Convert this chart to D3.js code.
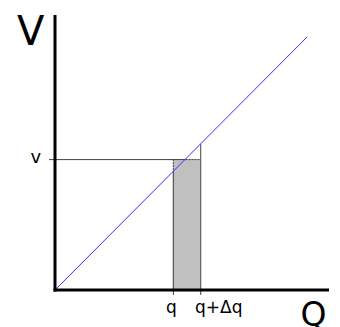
<!DOCTYPE html>
<html><head><meta charset="utf-8">
<script src="https://cdn.jsdelivr.net/npm/d3@7"></script>
<style>html,body{margin:0;padding:0;background:#fff;}svg{display:block;}</style>
</head><body>
<svg id="c" width="340" height="327"></svg>
<script>
// Data (abstract units)
const axisMax = [100, 100];          // x and y axis extents
const supplyLine = [[0, 0], [92, 92]]; // blue 45° line
const qValue = 43;                    // q
const dqValue = 10;                   // Δq
const vValue = 47.6;                  // v
const xTickLabels = ["q", "q+Δq"];
const yTickLabels = ["v"];
const axisTitles = ["V", "Q"];

const svg = d3.select("#c");
const x = d3.scaleLinear().domain([0, axisMax[0]]).range([55, 329]);
const y = d3.scaleLinear().domain([0, axisMax[1]]).range([290, 15]);
const font = "'DejaVu Sans', Verdana, sans-serif";
const edge = "#404040";

const q1 = qValue, q2 = qValue + dqValue;

// shaded rectangle
svg.append("rect")
  .attr("x", x(q1)).attr("y", y(vValue))
  .attr("width", x(q2) - x(q1)).attr("height", y(0) - y(vValue))
  .attr("fill", "#c0c0c0");

// horizontal v line: solid to the line, dotted beyond
svg.append("line").attr("x1", x(0) - 6).attr("x2", x(vValue))
  .attr("y1", y(vValue) + 0.5).attr("y2", y(vValue) + 0.5)
  .attr("stroke", edge).attr("stroke-width", 1);
svg.append("line").attr("x1", x(vValue)).attr("x2", x(q2))
  .attr("y1", y(vValue) + 0.5).attr("y2", y(vValue) + 0.5)
  .attr("stroke", edge).attr("stroke-width", 1).attr("stroke-dasharray", "2,1");

// left edge: dotted from v to line, solid below
svg.append("line").attr("x1", x(q1) + 0.5).attr("x2", x(q1) + 0.5)
  .attr("y1", y(vValue)).attr("y2", y(q1))
  .attr("stroke", edge).attr("stroke-width", 1).attr("stroke-dasharray", "2,1");
svg.append("line").attr("x1", x(q1) + 0.5).attr("x2", x(q1) + 0.5)
  .attr("y1", y(q1)).attr("y2", y(0) + 5)
  .attr("stroke", edge).attr("stroke-width", 1);
// right edge: solid up to the line
svg.append("line").attr("x1", x(q2) + 0.5).attr("x2", x(q2) + 0.5)
  .attr("y1", y(q2)).attr("y2", y(0) + 5)
  .attr("stroke", edge).attr("stroke-width", 1);

// blue line
svg.append("path")
  .attr("d", d3.line().x(d => x(d[0])).y(d => y(d[1]))(supplyLine))
  .attr("fill", "none").attr("stroke", "#3030ff").attr("stroke-width", 1);

// axes
svg.append("line").attr("x1", x(0)).attr("x2", x(0))
  .attr("y1", y(axisMax[1])).attr("y2", y(0) + 1.5)
  .attr("stroke", "#000").attr("stroke-width", 3);
svg.append("line").attr("x1", x(0) - 1.5).attr("x2", x(axisMax[0]))
  .attr("y1", y(0)).attr("y2", y(0))
  .attr("stroke", "#000").attr("stroke-width", 3);

// labels
svg.append("text").attr("x", 17).attr("y", 44.5)
  .attr("font-family", font).attr("font-size", 40).attr("fill", "#000").text(axisTitles[0]);
svg.append("text").attr("x", 300.5).attr("y", 325.5)
  .attr("font-family", font).attr("font-size", 33).attr("fill", "#000").text(axisTitles[1]);
svg.append("text").attr("x", 30.5).attr("y", 163)
  .attr("font-family", font).attr("font-size", 18).attr("fill", "#000").text(yTickLabels[0]);
svg.append("text").attr("x", 166).attr("y", 312.5)
  .attr("font-family", font).attr("font-size", 17).attr("fill", "#000").text(xTickLabels[0]);
svg.append("text").attr("x", 195).attr("y", 312.5)
  .attr("font-family", font).attr("font-size", 17).attr("fill", "#000").text(xTickLabels[1]);
</script>
</body></html>
